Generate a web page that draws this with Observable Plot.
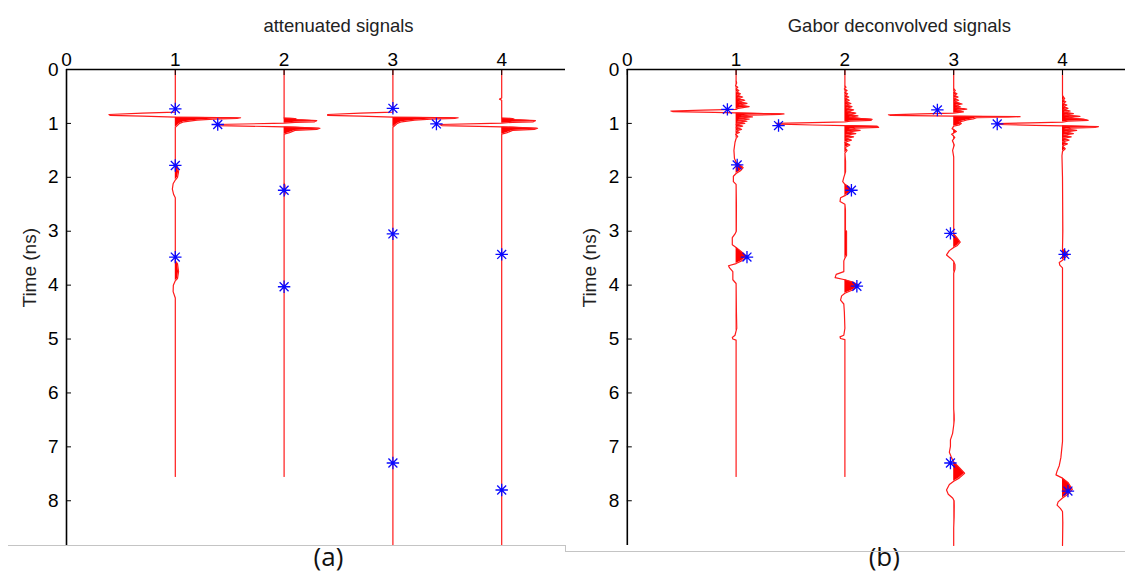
<!DOCTYPE html>
<html><head><meta charset="utf-8">
<script src="https://cdn.jsdelivr.net/npm/d3@7"></script>
<script src="https://cdn.jsdelivr.net/npm/@observablehq/plot@0.6"></script>
<style>
body{margin:0;background:#fff;}
#wrap{position:relative;width:1125px;height:583px;overflow:hidden;background:#fff;}
#pa{position:absolute;left:0;top:0;width:565px;height:583px;overflow:hidden;}
#pb{position:absolute;left:565px;top:0;width:560px;height:583px;overflow:hidden;}
.border{position:absolute;background:#c4c4c4;}
</style></head><body>
<div id="wrap"><div id="pa"></div><div id="pb"></div>
<div class="border" style="left:8px;top:545px;width:557px;height:1px"></div>
<div class="border" style="left:565px;top:545px;width:1px;height:6px"></div>
<div class="border" style="left:565px;top:551px;width:560px;height:1px"></div>
</div>
<script>
// ---------- data ----------
const traceOffsets = [1, 2, 3, 4];
const xTicks = [0, 1, 2, 3, 4];
const yTicks = [0, 1, 2, 3, 4, 5, 6, 7, 8];
const titles = ["attenuated signals", "Gabor deconvolved signals"];
const captions = ["(a)", "(b)"];
const yLabel = "Time (ns)";

// [time (ns), amplitude] — attenuated signals
const attT1 = [[0,0],[0.79,0],[0.81,-0.3],[0.835,-0.61],[0.85,-0.6],[0.865,-0.3],[0.885,0],[0.895,0.6],[0.905,0.57],[0.92,0.35],[0.94,0.2],[0.97,0.08],[1.0,0.04],[1.07,0],[1.75,0],[1.8,0.02],[1.9,0.03],[2.0,0.02],[2.05,0],[2.12,-0.02],[2.22,-0.027],[2.32,-0.015],[2.38,0],[3.55,0],[3.6,0.02],[3.75,0.03],[3.88,0.02],[3.92,0],[4.0,-0.018],[4.12,-0.02],[4.24,0],[7.55,0]];
const attT2 = [[0,0],[0.90,0],[0.91,0.1],[0.93,0.12],[0.95,0.3],[0.97,0.28],[0.98,0.1],[0.995,0],[1.0,-0.1],[1.02,-0.63],[1.04,-0.6],[1.06,-0.1],[1.065,0],[1.07,0.1],[1.09,0.33],[1.11,0.3],[1.13,0.1],[1.17,0.05],[1.2,0],[2.1,0],[2.15,0.008],[2.3,0.01],[2.35,0],[7.55,0]];
const attT3 = [[0,0],[0.79,0],[0.81,-0.3],[0.835,-0.6],[0.85,-0.6],[0.865,-0.3],[0.885,0],[0.895,0.6],[0.905,0.57],[0.92,0.35],[0.94,0.2],[0.97,0.08],[1.0,0.04],[1.07,0],[8.83,0]];
const attT4 = [[0,0],[0.53,0],[0.55,-0.02],[0.57,0],[0.90,0],[0.91,0.1],[0.93,0.12],[0.95,0.31],[0.97,0.29],[0.98,0.1],[0.995,0],[1.0,-0.1],[1.02,-0.57],[1.04,-0.55],[1.06,-0.1],[1.065,0],[1.07,0.1],[1.09,0.33],[1.11,0.3],[1.13,0.1],[1.17,0.05],[1.2,0],[8.83,0]];

// [time (ns), amplitude] — Gabor deconvolved signals
const gabT1 = [[0,0],[0.2,0],[0.25,0.005],[0.3,-0.005],[0.33,0.015],[0.36,0],[0.39,0.025],[0.42,0.005],[0.45,0.04],[0.48,0.01],[0.51,0.06],[0.54,0.015],[0.57,0.08],[0.6,0.02],[0.63,0.1],[0.66,0.03],[0.69,0.12],[0.72,0.02],[0.74,0],[0.755,-0.3],[0.77,-0.6],[0.78,-0.58],[0.795,-0.2],[0.805,0],[0.815,0.2],[0.825,0.44],[0.835,0.4],[0.845,0.12],[0.86,0.05],[0.88,0.15],[0.9,0.03],[0.92,0.12],[0.94,0.02],[0.96,0.1],[0.98,0.01],[1.0,0.08],[1.02,0],[1.05,0.06],[1.08,0],[1.11,0.05],[1.14,0],[1.17,0.03],[1.2,-0.005],[1.24,0.015],[1.28,0],[1.35,-0.01],[1.5,-0.02],[1.65,-0.015],[1.72,0],[1.76,0.03],[1.82,0.065],[1.88,0.04],[1.93,0],[1.98,-0.025],[2.08,-0.025],[2.13,0],[2.5,0.003],[3.0,0.002],[3.05,-0.01],[3.12,-0.035],[3.25,-0.035],[3.3,0],[3.4,0.06],[3.47,0.1],[3.55,0.05],[3.6,0],[3.64,-0.07],[3.68,-0.06],[3.75,-0.03],[3.9,-0.03],[3.97,0],[4.5,0.003],[4.8,0.006],[4.85,0],[4.93,-0.01],[4.97,-0.035],[5.0,-0.03],[5.02,0],[7.55,0]];
const gabT2 = [[0,0],[0.3,0],[0.33,0.01],[0.36,-0.005],[0.39,0.02],[0.42,0],[0.45,0.025],[0.48,0.005],[0.51,0.035],[0.54,0.005],[0.57,0.04],[0.6,0.01],[0.63,0.055],[0.66,0.01],[0.69,0.065],[0.72,0.015],[0.75,0.08],[0.78,0.02],[0.81,0.1],[0.835,0.03],[0.86,0.12],[0.885,0.04],[0.91,0.15],[0.925,0.25],[0.945,0.24],[0.96,0.05],[0.97,0],[0.985,-0.3],[1.0,-0.63],[1.015,-0.6],[1.03,-0.3],[1.04,0],[1.055,0.3],[1.075,0.31],[1.09,0.1],[1.11,0.04],[1.13,0.14],[1.16,0.02],[1.19,0.1],[1.22,0.01],[1.25,0.08],[1.28,0.01],[1.31,0.06],[1.35,0],[1.4,0.045],[1.45,0],[1.5,0.02],[1.55,0],[1.7,0.006],[1.9,0.006],[2.0,-0.01],[2.08,-0.02],[2.13,0],[2.18,0.04],[2.24,0.06],[2.3,0.03],[2.34,0],[2.38,-0.04],[2.45,-0.045],[2.5,0],[2.6,0.005],[2.98,0.005],[3.0,0.015],[3.45,0.015],[3.5,0],[3.55,-0.01],[3.75,-0.01],[3.8,-0.08],[3.86,-0.09],[3.9,0],[3.95,0.08],[4.0,0.13],[4.08,0.08],[4.15,0],[4.2,-0.03],[4.28,-0.04],[4.35,-0.01],[4.5,-0.005],[4.8,0],[4.93,-0.01],[4.96,-0.045],[4.99,-0.04],[5.01,0],[7.55,0]];
const gabT3 = [[0,0],[0.35,0],[0.39,0.015],[0.42,0],[0.45,0.03],[0.48,0.005],[0.51,0.04],[0.54,0.005],[0.57,0.045],[0.6,0.01],[0.64,0.077],[0.66,0.02],[0.69,0.06],[0.71,0.02],[0.735,0.12],[0.76,0.03],[0.785,0.09],[0.81,0],[0.825,-0.3],[0.84,-0.6],[0.85,-0.58],[0.86,-0.2],[0.865,0],[0.875,0.61],[0.885,0.5],[0.895,0.21],[0.915,0.18],[0.935,0.12],[0.955,0.09],[0.97,0.05],[1.0,0.07],[1.03,0.05],[1.05,0],[1.1,-0.015],[1.15,0.025],[1.2,-0.02],[1.26,0.01],[1.32,-0.012],[1.4,0.005],[1.5,-0.01],[1.62,0],[3.05,0],[3.12,0.03],[3.2,0.06],[3.27,0.03],[3.3,0],[3.36,-0.04],[3.44,-0.066],[3.5,-0.03],[3.56,0],[3.62,0.012],[3.7,0.012],[3.78,0],[6.3,0],[6.4,0.004],[6.5,0.005],[6.6,0],[6.75,-0.01],[6.87,-0.03],[6.99,-0.03],[7.1,-0.04],[7.2,-0.02],[7.28,0],[7.38,0.05],[7.49,0.1],[7.58,0.05],[7.64,0],[7.7,-0.04],[7.8,-0.066],[7.88,-0.05],[7.95,-0.01],[8.0,0.004],[8.1,0.005],[8.3,0.004],[8.5,0],[8.83,0]];
const gabT4 = [[0,0],[0.48,0],[0.51,0.01],[0.54,0.02],[0.57,0.005],[0.6,0.03],[0.63,0.005],[0.66,0.04],[0.69,0.01],[0.72,0.05],[0.745,0.01],[0.77,0.07],[0.795,0.015],[0.82,0.1],[0.845,0.02],[0.87,0.16],[0.895,0.03],[0.925,0.2],[0.945,0.236],[0.96,0.05],[0.975,0],[0.99,-0.3],[1.005,-0.6],[1.02,-0.58],[1.035,-0.25],[1.045,0],[1.06,0.33],[1.075,0.3],[1.09,0.08],[1.11,0.02],[1.13,0.13],[1.16,0.02],[1.19,0.1],[1.22,0.01],[1.25,0.08],[1.28,0.005],[1.31,0.06],[1.345,0],[1.38,0.045],[1.42,0],[1.47,0.025],[1.52,0],[1.6,-0.005],[2.0,0],[3.0,0.003],[3.33,0],[3.38,0.03],[3.44,0.05],[3.5,0.02],[3.54,0],[3.58,-0.03],[3.63,-0.025],[3.68,0],[6.9,0],[7.0,-0.005],[7.2,-0.015],[7.35,-0.03],[7.45,-0.05],[7.52,-0.06],[7.58,0],[7.66,0.05],[7.79,0.09],[7.88,0.05],[7.95,0],[8.02,-0.04],[8.08,-0.05],[8.14,-0.02],[8.2,0],[8.4,0.003],[8.83,0]];

// blue asterisk picks
const attMarkX = [1, 1.39, 1, 1, 2, 2, 3, 3.4, 3, 3, 4, 4];
const attMarkT = [0.73, 1.02, 1.78, 3.48, 2.24, 4.03, 0.72, 1.01, 3.05, 7.30, 3.43, 7.80];
const gabMarkX = [0.92, 1.39, 1.01, 1.10, 2.06, 2.11, 2.85, 3.40, 2.97, 2.97, 4.02, 4.05];
const gabMarkT = [0.74, 1.04, 1.77, 3.48, 2.24, 4.02, 0.75, 1.01, 3.04, 7.30, 3.43, 7.82];

// ---------- drawing ----------
const asterisk = {draw(ctx, size) {
  const r = Math.sqrt(size / Math.PI), d = r * 0.72;
  ctx.moveTo(0, -r); ctx.lineTo(0, r);
  ctx.moveTo(-r, 0); ctx.lineTo(r, 0);
  ctx.moveTo(-d, -d); ctx.lineTo(d, d);
  ctx.moveTo(-d, d); ctx.lineTo(d, -d);
}};

function panel({traces, markX, markT, title, caption, width, marginLeft, captionDx}) {
  const marks = [];
  traces.forEach((tr, i) => {
    const off = traceOffsets[i];
    marks.push(Plot.areaX(tr, {y: d => d[0], x1: d => off, x2: d => off + Math.max(0, d[1]), fill: "#ff0000"}));
    marks.push(Plot.line(tr, {x: d => off + d[1], y: d => d[0], stroke: "#ff1a1a", strokeWidth: 1.2}));
  });
  const marksData = markX.map((x, i) => ({x, t: markT[i]}));
  marks.push(Plot.dot(marksData, {x: "x", y: "t", symbol: asterisk, r: 6.2, stroke: "#0a0aff", strokeWidth: 1.3, fill: "none"}));
  marks.push(Plot.ruleY([0], {stroke: "#000", strokeWidth: 1.6}));
  marks.push(Plot.ruleX([0], {stroke: "#000", strokeWidth: 1.6}));
  marks.push(Plot.axisX(xTicks, {anchor: "top", tickSize: -5, tickPadding: 9, label: null, fontSize: 19, tickFormat: d => String(d)}));
  marks.push(Plot.axisY(yTicks, {anchor: "left", tickSize: -5, tickPadding: 13, label: null, fontSize: 19, tickFormat: d => String(d)}));
  marks.push(Plot.text([title], {frameAnchor: "top", dy: -51, fontSize: 18.5, fill: "#222"}));
  marks.push(Plot.text([yLabel], {frameAnchor: "left", dx: -37, rotate: -90, fontSize: 19, fill: "#222"}));
  marks.push(Plot.text([caption], {frameAnchor: "bottom", dy: 20, dx: captionDx, fontSize: 26, fontFamily: "Open Sans, sans-serif", fill: "#111"}));
  const plotW = 5 * 108.8;
  return Plot.plot({
    width, height: 583,
    marginLeft, marginRight: width - (marginLeft + plotW), marginTop: 69, marginBottom: 38,
    x: {domain: [0, 5], axis: null},
    y: {domain: [0, 8.83], reverse: true, axis: null},
    style: {fontFamily: "Liberation Sans, Arial, sans-serif", fontSize: "19px", color: "#000", background: "transparent", overflow: "hidden"},
    marks
  });
}

document.getElementById("pa").append(panel({
  traces: [attT1, attT2, attT3, attT4], markX: attMarkX, markT: attMarkT,
  title: titles[0], caption: captions[0], width: 565, marginLeft: 66, captionDx: -10
}));
document.getElementById("pb").append(panel({
  traces: [gabT1, gabT2, gabT3, gabT4], markX: gabMarkX, markT: gabMarkT,
  title: titles[1], caption: captions[1], width: 560, marginLeft: 61.8, captionDx: -15
}));
</script>
</body></html>
